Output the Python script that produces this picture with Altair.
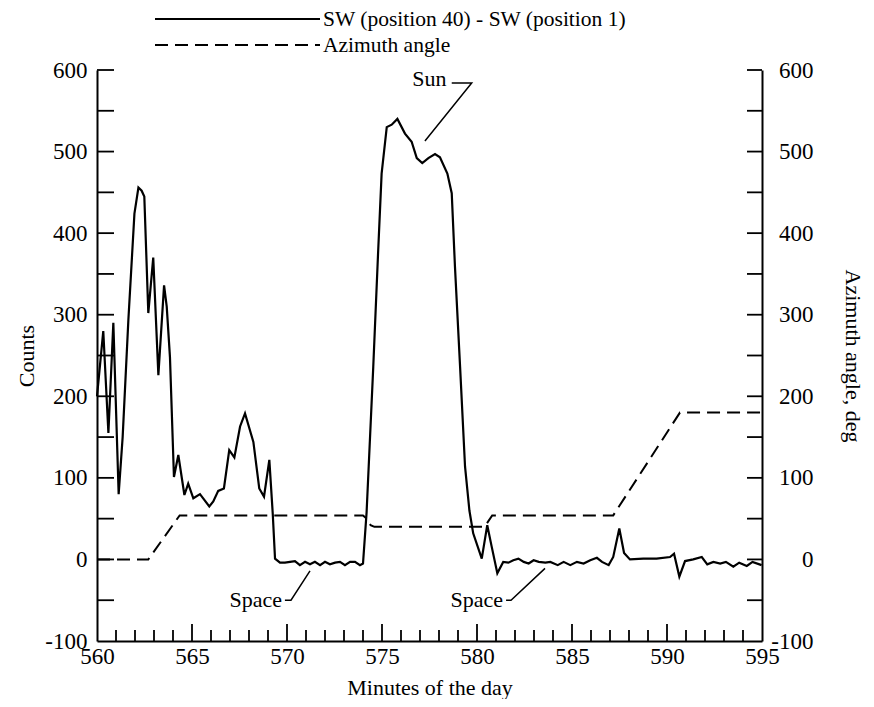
import altair as alt
import pandas as pd

# ---------------- data ----------------
minutes = [560.00, 560.33, 560.60, 560.86, 561.14, 561.35, 561.65, 561.97, 562.18, 562.35,
           562.49, 562.70, 562.96, 563.23, 563.53, 563.67, 563.84, 564.05, 564.28, 564.60,
           564.80, 565.07, 565.42, 565.91, 566.12, 566.38, 566.68, 566.96, 567.23, 567.53,
           567.79, 568.23, 568.54, 568.79, 569.07, 569.25, 569.37, 569.63, 569.89, 570.16,
           570.42, 570.68, 570.95, 571.21, 571.47, 571.74, 572.00, 572.26, 572.53, 572.79,
           573.05, 573.32, 573.58, 573.84, 574.00, 574.19, 574.54, 574.80, 574.98, 575.25,
           575.51, 575.81, 576.21, 576.56, 576.83, 577.12, 577.44, 577.79, 578.05, 578.44,
           578.67, 578.84, 579.11, 579.37, 579.60, 579.80, 580.25, 580.54, 580.77, 581.07,
           581.38, 581.65, 581.91, 582.18, 582.46, 582.72, 582.98, 583.25, 583.60, 583.86,
           584.25, 584.56, 584.91, 585.26, 585.61, 585.96, 586.31, 586.58, 586.93, 587.17,
           587.49, 587.74, 588.05, 588.75, 589.45, 590.16, 590.37, 590.65, 590.95, 591.38,
           591.83, 592.12, 592.44, 592.80, 593.10, 593.49, 593.80, 594.20, 594.50, 594.98]
counts = [200, 280, 155, 290, 80, 150, 293, 424, 456, 452,
          445, 302, 370, 226, 336, 310, 248, 101, 128, 79,
          93, 75, 80, 65, 71, 84, 87, 134, 125, 163,
          179, 144, 87, 77, 122, 56, 1, -4, -4, -3,
          -2, -7, -3, -6, -3, -7, -3, -6, -4, -3,
          -7, -3, -3, -7, -5, 58, 236, 379, 473, 530,
          533, 540, 522, 512, 492, 486, 492, 497, 493, 473,
          449, 359, 236, 114, 60, 32, 1, 42, 16, -17,
          -3, -4, -1, 1, -3, -5, -1, -3, -4, -3,
          -7, -3, -7, -3, -5, -1, 2, -3, -7, 3,
          38, 8, 0, 1, 1, 3, 7, -21, -2, 0,
          3, -6, -3, -5, -3, -9, -4, -8, -3, -7]

az_minutes = [560.0, 562.7, 564.35, 574.0, 574.2, 574.4, 574.6, 580.4, 580.8, 587.17, 590.68, 595.0]
az_values = [0, 0, 54, 54, 50, 42, 40, 40, 54, 54, 180, 180]

x_label_values = [560, 565, 570, 575, 580, 585, 590, 595]
y_label_values = [-100, 0, 100, 200, 300, 400, 500, 600]
x_major_ticks = [565, 570, 575, 580, 585, 590]
x_minor_ticks = [m for m in range(561, 595) if m % 5 != 0]
y_ticks = [-50, 0, 50, 100, 150, 200, 250, 300, 350, 400, 450, 500, 550, 600]

legend_labels = ["SW (position 40) - SW (position 1)", "Azimuth angle"]

sun_label = ["Sun"]
sun_label_pos = [578.40, 589]
sun_leader_t = [577.26, 579.72, 578.67]
sun_leader_v = [513, 584, 584]

space_labels = ["Space", "Space"]
space_label_t = [569.74, 581.37]
space_label_v = [-50, -50]
space1_leader_t = [569.89, 570.21, 571.21]
space1_leader_v = [-50, -50, -14]
space2_leader_t = [581.53, 581.79, 583.58]
space2_leader_v = [-50, -50, -11]

# ---------------- styling ----------------
FONT = "Liberation Serif"
FS = 22
LFS = 23
W, H = 665, 571
XDOM = [560, 595]
YDOM = [-100, 600]

counts_df = pd.DataFrame({"minute": minutes, "counts": counts})
az_df = pd.DataFrame({"minute": az_minutes, "azimuth": az_values})

common_axis = dict(ticks=False, grid=False, labelFont=FONT, labelFontSize=LFS, titleFont=FONT,
                   titleFontSize=FS, titleFontWeight="normal", labelColor="black", titleColor="black",
                   domainColor="black", domainWidth=2, labelExpr="'' + datum.value",
                   labelFlush=False, labelOverlap=False)

x_axis = alt.Axis(values=x_label_values, title="Minutes of the day", orient="bottom", labelPadding=4,
                  titlePadding=9, **common_axis)
y_left_axis = alt.Axis(values=y_label_values, title="Counts", orient="left", labelPadding=10,
                       titlePadding=6, **common_axis)
y_right_axis = alt.Axis(values=y_label_values, title="Azimuth angle, deg", orient="right",
                        labelPadding=51, labelAlign="right", titlePadding=27, titleAngle=90,
                        **common_axis)


def xs(field):
    return alt.X(f"{field}:Q", scale=alt.Scale(domain=XDOM, nice=False, zero=False), axis=x_axis)


def ys(field, axis=None):
    return alt.Y(f"{field}:Q", scale=alt.Scale(domain=YDOM, nice=False, zero=False), axis=axis)


counts_line = alt.Chart(counts_df).mark_line(color="black", strokeWidth=2.2).encode(
    x=xs("minute"), y=ys("counts", y_left_axis))

az_line = alt.Chart(az_df).mark_line(color="black", strokeWidth=2, strokeDash=[13, 7]).encode(
    x=xs("minute"), y=ys("azimuth", y_right_axis))

# inward ticks
xmaj = alt.Chart(pd.DataFrame({"minute": x_major_ticks})).mark_rule(color="black", strokeWidth=1.8).encode(
    x=xs("minute"), y=alt.value(H), y2=alt.value(H - 17))
xmin = alt.Chart(pd.DataFrame({"minute": x_minor_ticks})).mark_rule(color="black", strokeWidth=1.8).encode(
    x=xs("minute"), y=alt.value(H), y2=alt.value(H - 11))
yl = alt.Chart(pd.DataFrame({"v": y_ticks})).mark_rule(color="black", strokeWidth=1.8).encode(
    y=ys("v"), x=alt.value(0), x2=alt.value(17))
yr = alt.Chart(pd.DataFrame({"v": y_ticks})).mark_rule(color="black", strokeWidth=1.8).encode(
    y=ys("v"), x=alt.value(W - 15), x2=alt.value(W))

# legend
leg_df = pd.DataFrame({"label": legend_labels})
leg_solid = alt.Chart(leg_df.iloc[[0]]).mark_rule(color="black", strokeWidth=2.2).encode(
    x=alt.value(58), x2=alt.value(223), y=alt.value(-51))
leg_dash = alt.Chart(leg_df.iloc[[1]]).mark_rule(color="black", strokeWidth=2, strokeDash=[13, 7]).encode(
    x=alt.value(58), x2=alt.value(223), y=alt.value(-25))
leg_text1 = alt.Chart(leg_df.iloc[[0]]).mark_text(font=FONT, fontSize=21.5, align="left", baseline="middle",
                                                 color="black").encode(
    x=alt.value(226), y=alt.value(-50), text="label:N")
leg_text2 = alt.Chart(leg_df.iloc[[1]]).mark_text(font=FONT, fontSize=21.5, align="left", baseline="middle",
                                                 color="black").encode(
    x=alt.value(226), y=alt.value(-24), text="label:N")

# annotations
sun_df = pd.DataFrame({"minute": sun_leader_t, "v": sun_leader_v, "i": [0, 1, 2]})
sun_leader = alt.Chart(sun_df).mark_line(color="black", strokeWidth=1.5).encode(
    x=xs("minute"), y=ys("v"), order="i:Q")
sun_text = alt.Chart(pd.DataFrame({"minute": [sun_label_pos[0]], "v": [sun_label_pos[1]], "s": sun_label})).mark_text(
    font=FONT, fontSize=FS, align="right", baseline="middle", color="black").encode(
    x=xs("minute"), y=ys("v"), text="s:N")

sp1_df = pd.DataFrame({"minute": space1_leader_t, "v": space1_leader_v, "i": [0, 1, 2]})
sp2_df = pd.DataFrame({"minute": space2_leader_t, "v": space2_leader_v, "i": [0, 1, 2]})
sp1 = alt.Chart(sp1_df).mark_line(color="black", strokeWidth=1.5).encode(x=xs("minute"), y=ys("v"), order="i:Q")
sp2 = alt.Chart(sp2_df).mark_line(color="black", strokeWidth=1.5).encode(x=xs("minute"), y=ys("v"), order="i:Q")
sp_text = alt.Chart(pd.DataFrame({"minute": space_label_t, "v": space_label_v, "s": space_labels})).mark_text(
    font=FONT, fontSize=FS, align="right", baseline="middle", color="black").encode(
    x=xs("minute"), y=ys("v"), text="s:N")

chart = alt.layer(
    counts_line, az_line, xmaj, xmin, yl, yr,
    leg_solid, leg_dash, leg_text1, leg_text2,
    sun_leader, sun_text, sp1, sp2, sp_text
).resolve_scale(y="independent", x="shared").properties(
    width=W, height=H,
    background="white",
    view=alt.ViewBackground(stroke=None, strokeWidth=0),
    autosize=alt.AutoSizeParams(type="none"),
    padding={"left": 89, "top": 62, "right": 104, "bottom": 58},
).configure_view(stroke=None, strokeWidth=0)

chart.save("out.html", embed_options={"renderer": "svg", "actions": False})
